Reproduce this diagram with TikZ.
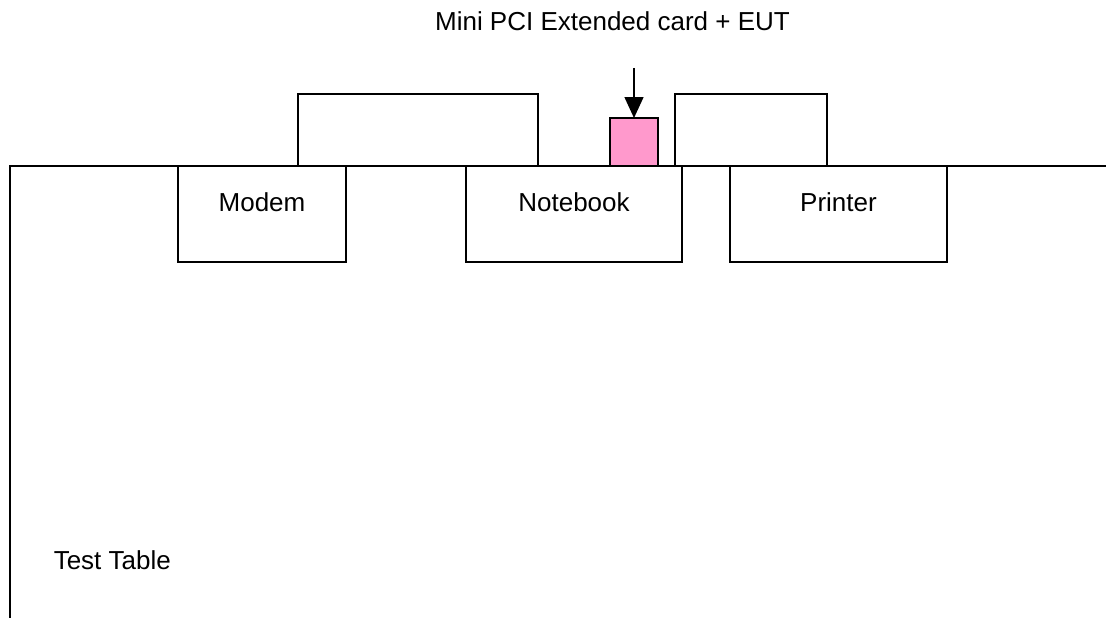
\documentclass[tikz,border=0pt]{standalone}
\usepackage{fontspec}
\setmainfont{Liberation Sans}
\usetikzlibrary{arrows.meta}
\definecolor{eutpink}{HTML}{FF99CC}
\tikzset{
  lbl/.style = {inner sep=0pt, font=\fontsize{26}{31}\selectfont},
  devbox/.style = {draw, lbl, anchor=north west, outer sep=0pt,
    minimum height=96pt, text height=19pt, text depth=25pt},
  topbox/.style = {draw, inner sep=0pt, outer sep=0pt, anchor=north west,
    minimum height=72pt}
}
\tikzset{>={Triangle[length=21pt,width=19pt]}}

\begin{document}
\begin{tikzpicture}[x=1pt,y=-1pt,line width=1.5pt]
  \useasboundingbox (0,0) rectangle (1106,618);
  % table edge
  \coordinate (tbl) at (10,618);
  \draw (tbl) |- (1106,166);
  \node[lbl,anchor=west] (tablelbl) at (53,560) {Test Table};
  % equipment on the table
  \node[topbox, minimum width=240pt] (screen) at (298,94) {};
  \node[topbox, minimum width=152pt] (paper) at (675,94) {};
  \node[topbox, minimum width=48pt, minimum height=48pt, fill=eutpink] (eut) at (610,118) {};
  \node[devbox, minimum width=168pt] (modem) at (178,166) {Modem};
  \node[devbox, minimum width=216pt] (notebook) at (466,166) {Notebook};
  \node[devbox, minimum width=217pt] (printer) at (730,166) {Printer};
  % card pointer
  \node[lbl] (cardlbl) at (612.5,21) {Mini PCI Extended card + EUT};
  \coordinate (from) at (634,68);
  \draw[->] (from) -- (eut.north);
\end{tikzpicture}
\end{document}
